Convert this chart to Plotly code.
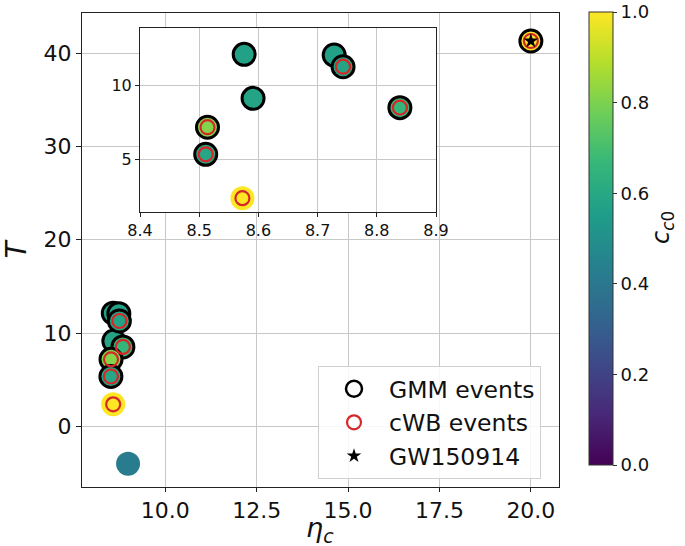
import plotly.graph_objects as go

# ---- data ----
eta_c = [8.576, 8.591, 8.728, 8.743, 8.839, 8.514, 8.511, 8.573, 20.0, 8.98]
T_val = [12.13, 9.14, 12.08, 11.29, 8.51, 7.18, 5.34, 2.36, 41.3, -4.0]
c_c0 = [0.57, 0.58, 0.57, 0.58, 0.66, 0.81, 0.59, 1.0, 1.0, 0.42]
is_gmm = [1, 1, 1, 1, 1, 1, 1, 0, 1, 0]
is_cwb = [0, 0, 0, 1, 1, 1, 1, 1, 1, 0]
gw_eta = [20.0]
gw_T = [41.3]

main_xticks = [10.0, 12.5, 15.0, 17.5, 20.0]
main_yticks = [0, 10, 20, 30, 40]
inset_xticks = [8.4, 8.5, 8.6, 8.7, 8.8, 8.9]
inset_yticks = [5, 10]
cbar_ticks = [0.0, 0.2, 0.4, 0.6, 0.8, 1.0]

FONT = "DejaVu Sans"
W, H = 685, 546
L, R, Tm, B = 82, 126, 13, 59

def sel(lst, mask, val=1):
    return [v for v, m in zip(lst, mask) if m == val]

fig = go.Figure()

ph = H - Tm - B
pw = W - L - R
PX0, PY1 = L, H - B  # px of plot left / bottom

def px_x(p):
    return (p - PX0) / pw

def px_y(p):
    return (PY1 - p) / ph

CB_TOP, CB_BOT = 11.7, 465

def add_points(xa, ya, show_cbar):
    fig.add_trace(go.Scatter(
        x=sel(eta_c, is_gmm, 0), y=sel(T_val, is_gmm, 0), mode="markers",
        xaxis=xa, yaxis=ya, showlegend=False, hoverinfo="skip",
        marker=dict(size=24, color=sel(c_c0, is_gmm, 0), colorscale="Viridis",
                    cmin=0, cmax=1, line=dict(width=0),
                    showscale=show_cbar,
                    colorbar=dict(
                        x=px_x(589), xanchor="left", xpad=0, ypad=0,
                        y=px_y(CB_BOT), yanchor="bottom",
                        len=(CB_BOT - CB_TOP) / ph, lenmode="fraction",
                        thickness=24, thicknessmode="pixels",
                        outlinewidth=1, outlinecolor="#333",
                        tickvals=cbar_ticks,
                        ticktext=[f"{t:.1f}" for t in cbar_ticks],
                        ticks="outside", ticklen=4, tickcolor="#333",
                        tickfont=dict(family=FONT, size=18, color="#111"),
                    ) if show_cbar else None)))
    fig.add_trace(go.Scatter(
        x=sel(eta_c, is_gmm), y=sel(T_val, is_gmm), mode="markers",
        xaxis=xa, yaxis=ya, showlegend=False, hoverinfo="skip",
        marker=dict(size=22, color=sel(c_c0, is_gmm), colorscale="Viridis",
                    cmin=0, cmax=1, line=dict(width=3, color="black"))))
    fig.add_trace(go.Scatter(
        x=sel(eta_c, is_cwb), y=sel(T_val, is_cwb), mode="markers",
        xaxis=xa, yaxis=ya, name="cWB events", showlegend=(xa == "x"),
        hoverinfo="skip", legendrank=2,
        marker=dict(size=14, color="rgba(0,0,0,0)", symbol="circle",
                    line=dict(width=2.2, color="#d62728"))))
    fig.add_trace(go.Scatter(
        x=gw_eta, y=gw_T, mode="markers", xaxis=xa, yaxis=ya,
        name="GW150914", showlegend=(xa == "x"), hoverinfo="skip", legendrank=3,
        marker=dict(size=11, symbol="star", color="black", line=dict(width=0))))

fig.add_trace(go.Scatter(x=[None], y=[None], mode="markers", name="GMM events",
                         legendrank=1, hoverinfo="skip",
                         marker=dict(size=20, symbol="circle", color="rgba(0,0,0,0)",
                                     line=dict(width=2.5, color="black"))))
add_points("x", "y", True)
add_points("x2", "y2", False)

inset_dom_x = [px_x(140), px_x(436)]
inset_dom_y = [px_y(212), px_y(28.3)]

grid = "#c8c8c8"
fig.update_layout(
    width=W, height=H,
    margin=dict(l=L, r=R, t=Tm, b=B, autoexpand=False),
    paper_bgcolor="white", plot_bgcolor="white",
    font=dict(family=FONT, color="#111"),
    xaxis=dict(domain=[0, 1], range=[7.72, 20.77], tickvals=main_xticks,
               ticktext=[f"{t:.1f}" for t in main_xticks],
               showgrid=True, gridcolor=grid, gridwidth=1, zeroline=False,
               showline=True, linecolor="#222", linewidth=1, mirror=True,
               ticks="outside", ticklen=4, tickcolor="#222",
               tickfont=dict(size=22)),
    yaxis=dict(domain=[0, 1], range=[-6.5, 44.3], tickvals=main_yticks,
               showgrid=True, gridcolor=grid, gridwidth=1, zeroline=False,
               showline=True, linecolor="#222", linewidth=1, mirror=True,
               ticks="outside", ticklen=5, tickcolor="#222",
               tickfont=dict(size=22),
               title=dict(text="<i>T</i>", font=dict(size=28), standoff=8)),
    xaxis2=dict(domain=inset_dom_x, anchor="y2", range=[8.4, 8.9],
                tickvals=inset_xticks, ticktext=[f"{t:.1f}" for t in inset_xticks],
                showgrid=True, gridcolor=grid, gridwidth=1, zeroline=False,
                showline=True, linecolor="#222", linewidth=1, mirror=True,
                ticks="outside", ticklen=4, tickcolor="#222",
                tickfont=dict(size=16)),
    yaxis2=dict(domain=inset_dom_y, anchor="x2", range=[1.42, 13.9],
                tickvals=inset_yticks,
                showgrid=True, gridcolor=grid, gridwidth=1, zeroline=False,
                showline=True, linecolor="#222", linewidth=1, mirror=True,
                ticks="outside", ticklen=4, tickcolor="#222",
                tickfont=dict(size=16)),
    legend=dict(x=px_x(318), y=px_y(366), xanchor="left", yanchor="top",
                bgcolor="rgba(255,255,255,0.85)", bordercolor="#d0d0d0", borderwidth=1,
                font=dict(family=FONT, size=23.5, color="#111"),
                itemsizing="trace", itemwidth=60, tracegroupgap=0),
    shapes=[dict(type="rect", xref="x2 domain", yref="y2 domain", x0=0, x1=1, y0=0, y1=1,
                 fillcolor="white", line=dict(width=0), layer="below")],
    annotations=[
        dict(text="<i>η</i><sub><i>c</i></sub>", xref="paper", yref="paper",
             x=px_x(320), y=px_y(529), xanchor="center", yanchor="middle",
             showarrow=False, font=dict(family=FONT, size=27, color="#111")),
        dict(text="<i>c</i><sub><i>c</i>0</sub>", xref="paper", yref="paper",
             x=px_x(662), y=px_y(228), xanchor="center", yanchor="middle",
             textangle=-90, showarrow=False,
             font=dict(family=FONT, size=24, color="#111")),
    ],
)

fig.write_html("out.html", config={"displayModeBar": False},
               post_script="document.body.style.margin='0px';")
